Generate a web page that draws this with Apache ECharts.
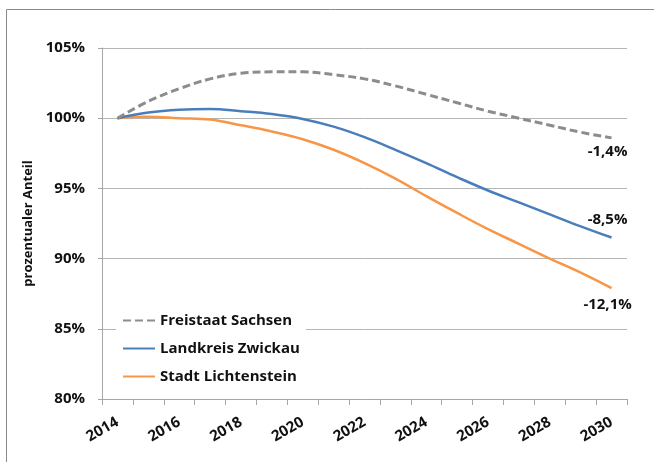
<!DOCTYPE html>
<html>
<head>
<meta charset="utf-8">
<script src="https://cdn.jsdelivr.net/npm/echarts@6/dist/echarts.min.js"></script>
<style>
  html, body { margin: 0; padding: 0; background: #fff; }
  #chart { width: 654px; height: 462px; }
</style>
</head>
<body>
<div id="chart"></div>
<script>
const years = ["2014", "2015", "2016", "2017", "2018", "2019", "2020", "2021", "2022",
  "2023", "2024", "2025", "2026", "2027", "2028", "2029", "2030"];

// Werte in Prozent (2014 = 100 %)
const sachsen = [100, 101.2, 102.1, 102.8, 103.2, 103.3, 103.3, 103.1, 102.8,
  102.3, 101.7, 101.1, 100.5, 100.0, 99.5, 99.0, 98.6];
const zwickau = [100, 100.4, 100.6, 100.65, 100.5, 100.3, 99.95, 99.4, 98.65,
  97.75, 96.8, 95.8, 94.85, 94.0, 93.15, 92.3, 91.5];
const lichtenstein = [100, 100.1, 100.0, 99.9, 99.5, 99.05, 98.5, 97.75, 96.8,
  95.7, 94.45, 93.25, 92.1, 91.05, 90.0, 89.0, 87.9];

const endLabels = ["-1,4%", "-8,5%", "-12,1%"];
const yTicks = [80, 85, 90, 95, 100, 105];

const font = "'Open Sans', sans-serif";
const chart = echarts.init(document.getElementById("chart"));

function withEndLabel(values, text, position, offset) {
  return values.map((v, i) => {
    if (i !== values.length - 1) return v;
    return {
      value: v,
      label: {
        show: true,
        formatter: text,
        position: position,
        offset: offset,
        fontFamily: font,
        fontWeight: "bold",
        fontSize: 15,
        color: "#111",
      },
    };
  });
}

chart.setOption({
  animation: false,
  textStyle: { fontFamily: font },
  graphic: [
    {
      type: "rect",
      shape: { x: 6.5, y: 9.5, width: 700, height: 500 },
      style: { fill: "none", stroke: "#8a8a8a", lineWidth: 1 },
      silent: true,
      z: -1,
    },
  ],
  grid: { left: 102, right: 27, top: 48, bottom: 63 },
  legend: {
    orient: "vertical",
    left: 116,
    top: 309,
    itemWidth: 32,
    itemHeight: 14,
    itemGap: 13,
    backgroundColor: "#fff",
    padding: [4, 6, 4, 6],
    itemStyle: { opacity: 0 },
    textStyle: { fontFamily: font, fontWeight: "bold", fontSize: 15, color: "#111" },
    data: ["Freistaat Sachsen", "Landkreis Zwickau", "Stadt Lichtenstein"],
  },
  xAxis: {
    type: "category",
    data: years,
    boundaryGap: true,
    axisLine: { lineStyle: { color: "#a6a6a6", width: 1 } },
    axisTick: { show: true, interval: 0, length: 6, lineStyle: { color: "#a6a6a6" } },
    axisLabel: {
      interval: 1,
      rotate: 30,
      margin: 22,
      fontFamily: font,
      fontWeight: "bold",
      fontSize: 15,
      color: "#111",
    },
    splitLine: { show: false },
  },
  yAxis: {
    type: "value",
    min: yTicks[0],
    max: yTicks[yTicks.length - 1],
    interval: 5,
    name: "prozentualer Anteil",
    nameLocation: "middle",
    nameGap: 58,
    nameTextStyle: { fontFamily: font, fontWeight: "bold", fontSize: 13, color: "#111" },
    axisLine: { show: true, lineStyle: { color: "#a6a6a6", width: 1 } },
    axisTick: { show: true, length: 4, lineStyle: { color: "#a6a6a6" } },
    axisLabel: {
      formatter: "{value}%",
      margin: 17,
      fontFamily: font,
      fontWeight: "bold",
      fontSize: 15,
      color: "#111",
    },
    splitLine: { show: true, lineStyle: { color: "#b5b5b5", width: 1 } },
  },
  series: [
    {
      name: "Freistaat Sachsen",
      type: "line",
      smooth: 0.4,
      symbol: "circle",
      symbolSize: 0,
      data: withEndLabel(sachsen, endLabels[0], "bottom", [-4, 1]),
      lineStyle: { width: 3, color: "#8c8c8c", type: [8, 4] },
      itemStyle: { color: "#8c8c8c" },
      z: 3,
    },
    {
      name: "Landkreis Zwickau",
      type: "line",
      smooth: 0.4,
      symbol: "circle",
      symbolSize: 0,
      data: withEndLabel(zwickau, endLabels[1], "top", [-4, -5]),
      lineStyle: { width: 2.5, color: "#4a7ebb" },
      itemStyle: { color: "#4a7ebb" },
      z: 2,
    },
    {
      name: "Stadt Lichtenstein",
      type: "line",
      smooth: 0.4,
      symbol: "circle",
      symbolSize: 0,
      data: withEndLabel(lichtenstein, endLabels[2], "bottom", [-4, 4]),
      lineStyle: { width: 2.5, color: "#f79646" },
      itemStyle: { color: "#f79646" },
      z: 1,
    },
  ],
});
</script>
</body>
</html>
